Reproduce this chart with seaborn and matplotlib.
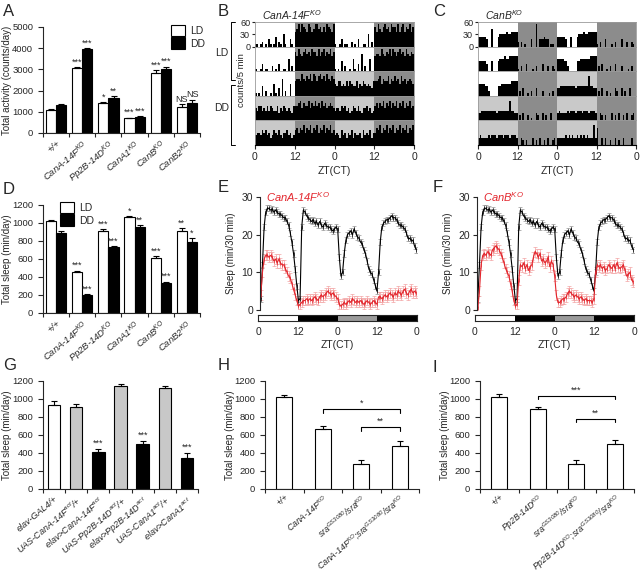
import numpy as np
import pandas as pd
import matplotlib
matplotlib.use("Agg")
import matplotlib.pyplot as plt
import seaborn as sns
from matplotlib.patches import Patch
from matplotlib.lines import Line2D

sns.set_style("ticks")
plt.rcParams["font.family"] = ["Liberation Sans", "DejaVu Sans"]
plt.rcParams["mathtext.default"] = "regular"
plt.rcParams["font.size"] = 6.8
plt.rcParams["axes.linewidth"] = 0.8
plt.rcParams["xtick.major.width"] = 0.8
plt.rcParams["ytick.major.width"] = 0.8
plt.rcParams["xtick.minor.width"] = 0.8
plt.rcParams["xtick.labelsize"] = 6.8
plt.rcParams["ytick.labelsize"] = 6.8

# ---------------- data ----------------
ko_names = ["+/+", "CanA-14F", "Pp2B-14D", "CanA1", "CanB", "CanB2"]
ko_labels = ["+/+", "CanA-14F$^{KO}$", "Pp2B-14D$^{KO}$", "CanA1$^{KO}$",
             "CanB$^{KO}$", "CanB2$^{KO}$"]

activity_ld = [1080, 3080, 1400, 700, 2850, 1230]
activity_ld_err = [40, 20, 60, 30, 120, 130]
activity_dd = [1320, 3970, 1650, 770, 3000, 1420]
activity_dd_err = [40, 30, 80, 30, 130, 150]
activity_sig_ld = ["", "***", "*", "***", "***", "NS"]
activity_sig_dd = ["", "***", "**", "***", "***", "NS"]

sleep_ld = [1020, 455, 915, 1070, 610, 915]
sleep_ld_err = [10, 15, 15, 8, 25, 30]
sleep_dd = [890, 200, 730, 960, 330, 790]
sleep_dd_err = [20, 10, 15, 15, 20, 40]
sleep_sig_ld = ["", "***", "***", "*", "***", "**"]
sleep_sig_dd = ["", "***", "***", "**", "***", "*"]

# actograms: one string per day, 48 half-hour bins, digit = counts / 6
regime = ["LD", "LD", "LD", "DD", "DD", "DD"]
canA14F_days = [
    "110120103101402105100310" + "679698769867997868698769",
    "100130110020103001105020" + "869768978698869689687968",
    "101040200105103070200500" + "677697687969868978697687",
    "546645464654463546545436" + "667857668576867586756765",
    "455465645346546435564534" + "675768576857685768576856",
    "454364535463544536454635" + "576857685768576857685768",
]
canB_days = [
    "444443007000455556556666" + "202010003009033343301100",
    "444443004000455565566666" + "102003000102000300200210",
    "555544200000445555556666" + "020300102003000200010200",
    "334444444443444444484433" + "020300201003200302003000",
    "343333434443444344434443" + "003202000302030020300230",
    "333334343433434343433383" + "700303002003020030000300",
]

# sleep profiles, 30-min bins over 48 h
ctrl_sleep = [3, 12, 22, 26, 27, 27, 26.5, 26.8, 26, 26.5, 26, 25.5,
              25.5, 25, 24.5, 24.5, 23.5, 22.5, 20.5, 18, 15, 11, 6.5, 2.5,
              3, 22, 26.5, 26, 25, 24.5, 24, 23.5, 24, 23, 23.5, 22.5,
              23.5, 22.5, 22, 23, 22.5, 22, 22, 21.5, 21, 21.5, 22, 21.5,
              14, 9, 10, 15, 18.5, 20, 20.5, 21, 20, 21.5, 20.5, 19.5,
              19, 18, 17.5, 16, 15, 13, 11, 10, 9.5, 8, 6.5, 5,
              10, 18, 22, 23, 23.5, 24, 24, 24.5, 25, 24.5, 24.5, 24,
              23, 22.5, 22.5, 22, 21.5, 20.5, 19, 19, 18.5, 18.5, 17, 16]
canA14F_sleep = [4, 10, 13.5, 14.5, 14.5, 14, 14.5, 14, 13, 13.5, 12.5, 13.5,
                 12.5, 12, 12, 11, 10, 9, 8.5, 7, 5.5, 4, 2.5, 1,
                 1.5, 2, 2.5, 2.5, 3, 2.5, 3, 2.5, 3, 3.5, 3, 2.5,
                 3.5, 4, 3.5, 4, 4.5, 5, 4.5, 4, 4.5, 4, 3.5, 3,
                 1.5, 1, 1.5, 2, 1.5, 2, 2.5, 2, 3, 2.5, 2, 2.5,
                 2, 2.5, 2, 1.5, 2, 2.5, 2, 1.5, 2, 2.5, 2, 1.5,
                 3.5, 3.5, 3, 3.5, 4, 3.5, 4, 4.5, 4, 3.5, 4.5, 4,
                 5, 4.5, 4, 5, 5.5, 4.5, 4, 5, 5.5, 4.5, 5, 4.5]
canB_sleep = [0.5, 5, 12, 14.5, 15, 14.5, 15.5, 15, 14.5, 16, 16.5, 17,
              16.5, 16, 15, 14, 12.5, 11, 10, 9, 7, 5, 2.5, 1,
              1.5, 8, 12, 11.5, 12.5, 11, 12, 10.5, 11.5, 12, 14, 15.5,
              15, 14, 15, 13, 13.5, 12.5, 13, 14, 11.5, 13, 12, 9,
              4, 2, 2, 2.5, 3, 3, 3.5, 4.5, 5, 4.5, 4, 3.5,
              4, 3.5, 3, 3.5, 3, 2.5, 3, 2.5, 2.5, 2.5, 2, 3,
              10, 12, 11.5, 12, 11, 11.5, 10.5, 11, 12, 11.5, 11, 12,
              11, 12.5, 11.5, 11, 11.5, 12, 10.5, 9, 9.5, 10, 8, 7.5]
ctrl_sem = 0.8
mutant_sem = 1.3
phase_bar = ["light", "dark", "subjective day", "dark"]

gof_names = ["elav-GAL4/+", "UAS-CanA-14F/+", "elav>CanA-14F",
             "UAS-Pp2B-14D/+", "elav>Pp2B-14D", "UAS-CanA1/+", "elav>CanA1"]
gof_labels = ["elav-GAL4/+", "UAS-CanA-14F$^{act}$/+", "elav>CanA-14F$^{act}$",
              "UAS-Pp2B-14D$^{act}$/+", "elav>Pp2B-14D$^{act}$",
              "UAS-CanA1$^{act}$/+", "elav>CanA1$^{act}$"]
gof_sleep = [930, 910, 415, 1140, 495, 1120, 350]
gof_err = [50, 40, 35, 25, 40, 20, 55]
gof_kind = ["driver", "uas", "over", "uas", "over", "uas", "over"]
gof_sig = ["", "", "***", "", "***", "", "***"]

h_names = ["+/+", "CanA-14F", "sra", "CanA-14F;sra"]
h_labels = ["+/+", "CanA-14F$^{KO}$", "sra$^{GS3080}$/sra$^{KO}$",
            "CanA-14F$^{KO}$;sra$^{GS3080}$/sra$^{KO}$"]
h_sleep = [1020, 665, 280, 480]
h_err = [30, 35, 45, 50]
h_brackets = [(1, 3, 890, "*"), (2, 3, 690, "**")]

i_names = ["+/+", "Pp2B-14D", "sra", "Pp2B-14D;sra"]
i_labels = ["+/+", "Pp2B-14D$^{KO}$", "sra$^{GS3080}$/sra$^{KO}$",
            "Pp2B-14D$^{KO}$;sra$^{GS3080}$/sra$^{KO}$"]
i_sleep = [1020, 885, 280, 495]
i_err = [35, 30, 45, 50]
i_brackets = [(1, 3, 1035, "***"), (2, 3, 780, "**")]

# ---------------- figure ----------------
W, H = 640, 576
fig = plt.figure(figsize=(W / 100, H / 100), dpi=100)


def box(l, t, r, b):
    return [l / W, 1 - b / H, (r - l) / W, (b - t) / H]


def ftext(x, y, s, **kw):
    fig.text(x / W, 1 - y / H, s, **kw)


def fline(xs, ys, **kw):
    fig.add_artist(Line2D([x / W for x in xs], [1 - y / H for y in ys],
                          transform=fig.transFigure, **kw))


def set_ylabel_px(ax, rect, text, x_px):
    l, t, r, b = rect
    ax.set_ylabel(text, fontsize=7)
    ax.yaxis.set_label_coords((x_px - l) / (r - l), 0.5)


def rot_labels(ax, labels, size=6.8, pad=4):
    ax.set_xticks(range(len(labels)))
    ax.set_xticklabels(labels, rotation=40, ha="right", rotation_mode="anchor",
                       fontstyle="italic", fontsize=size)
    ax.tick_params(axis="x", which="major", length=0, pad=pad)
    ax.set_xticks(np.arange(-0.5, len(labels)), minor=True)
    ax.tick_params(axis="x", which="minor", length=3, direction="out")


def grouped(rect, ld, ld_err, dd, dd_err, sig_ld, sig_dd, ymax, step, ylabel):
    ax = fig.add_axes(box(*rect))
    n = len(ko_names)
    df = pd.DataFrame({"genotype": ko_names * 2,
                       "cond": ["LD"] * n + ["DD"] * n,
                       "value": ld + dd})
    sns.barplot(data=df, x="genotype", y="value", hue="cond",
                hue_order=["LD", "DD"], palette={"LD": "white", "DD": "black"},
                edgecolor="black", linewidth=0.8, width=0.78, saturation=1,
                errorbar=None, legend=False, ax=ax)
    for cont, err, sig in zip(ax.containers, [ld_err, dd_err], [sig_ld, sig_dd]):
        for bar, e, s in zip(cont, err, sig):
            x = bar.get_x() + bar.get_width() / 2
            h = bar.get_height()
            ax.errorbar(x, h, yerr=[[0], [e]], ecolor="black", elinewidth=0.8,
                        capsize=2, capthick=0.8)
            if s:
                ax.text(x, h + e + ymax * 0.005, s, ha="center", va="bottom",
                        fontsize=6.5)
    ax.set_ylim(0, ymax)
    ax.set_xlim(-0.5, n - 0.5)
    ax.set_yticks(np.arange(0, ymax + 1, step))
    ax.set_xlabel("")
    rot_labels(ax, ko_labels)
    sns.despine(ax=ax)
    set_ylabel_px(ax, rect, ylabel, 12)
    return ax


def ld_dd_legend(ax, x_px, y_px):
    ax.legend(handles=[Patch(facecolor="white", edgecolor="black", lw=0.8),
                       Patch(facecolor="black", edgecolor="black", lw=0.8)],
              labels=["LD", "DD"], loc="upper left",
              bbox_to_anchor=(x_px / W, 1 - y_px / H),
              bbox_transform=fig.transFigure, frameon=False, handlelength=1.3,
              handleheight=1.3, handletextpad=0.5, labelspacing=0.1,
              fontsize=7.5, borderaxespad=0, borderpad=0)


# ----- A -----
ax_a = grouped((43, 27, 200, 133), activity_ld, activity_ld_err, activity_dd,
               activity_dd_err, activity_sig_ld, activity_sig_dd, 5000, 1000,
               "Total activity (counts/day)")
ld_dd_legend(ax_a, 171, 25)

# ----- D -----
ax_d = grouped((43, 205, 200, 313), sleep_ld, sleep_ld_err, sleep_dd,
               sleep_dd_err, sleep_sig_ld, sleep_sig_dd, 1200, 200,
               "Total sleep (min/day)")
ld_dd_legend(ax_d, 60, 202)


# ----- B, C actograms -----
def actogram(left, right, top, bottom, days, title):
    nrows = len(days) - 1
    rh = (bottom - top) / nrows
    for r in range(nrows):
        ax = fig.add_axes(box(left, top + r * rh, right, top + (r + 1) * rh))
        counts = np.array([int(c) * 6 for c in days[r] + days[r + 1]])
        hours = np.arange(len(counts)) * 0.5
        for k, reg in enumerate([regime[r], regime[r + 1]]):
            day_col = "white" if reg == "LD" else "#c9c9c9"
            ax.axvspan(24 * k, 24 * k + 12, color=day_col, lw=0, zorder=0)
            ax.axvspan(24 * k + 12, 24 * k + 24, color="#8c8c8c", lw=0, zorder=0)
        ax.bar(hours, counts, width=0.5, align="edge", color="black", lw=0,
               zorder=2)
        ax.set_xlim(0, 48)
        ax.set_ylim(0, 60)
        for s in ax.spines.values():
            s.set_color("#9a9a9a")
            s.set_linewidth(0.6)
        if r == 0:
            ax.set_yticks([0, 30, 60])
            ax.tick_params(axis="y", length=2.5, pad=1, labelsize=6.5)
        else:
            ax.set_yticks([])
        if r == nrows - 1:
            ax.set_xticks([0, 12, 24, 36, 48])
            ax.set_xticklabels(["0", "12", "0", "12", "0"], fontsize=7.5)
            ax.tick_params(axis="x", length=3, pad=2)
            ax.spines["bottom"].set_color("black")
            ax.spines["bottom"].set_linewidth(0.8)
        else:
            ax.set_xticks([])
    ftext((left + right) / 2, bottom + 26, "ZT(CT)", ha="center", va="center",
          fontsize=7.5)
    ftext(left + 7, top - 7, title, ha="left", va="center", fontsize=7.5,
          fontstyle="italic")


actogram(255, 414, 22, 145, canA14F_days, "CanA-14F$^{KO}$")
actogram(478, 636, 22, 145, canB_days, "CanB$^{KO}$")

# LD / DD brackets and y label of B
fline([235, 231, 231, 235], [22, 22, 80, 80], color="black", lw=0.7)
fline([235, 231, 231, 235], [85, 85, 145, 145], color="black", lw=0.7)
ftext(222, 53, "LD", ha="center", va="center", fontsize=7.5)
ftext(222, 108, "DD", ha="center", va="center", fontsize=7.5)
ftext(242, 80, "counts/5 min", ha="center", va="center", rotation=90,
      fontsize=6.8)


# ----- E, F sleep profiles -----
def profile(rect, strip_rect, mutant, title):
    ax = fig.add_axes(box(*rect))
    hours = (np.arange(len(ctrl_sleep)) + 0.5) * 0.5
    for vals, sem, col, ecol in [(ctrl_sleep, ctrl_sem, "black", "#8a8a8a"),
                                 (mutant, mutant_sem, "#e3262d", "#f19a9a")]:
        ax.errorbar(hours, vals, yerr=sem, fmt="none", ecolor=ecol,
                    elinewidth=0.45, capsize=1.2, capthick=0.45, zorder=1)
        sns.lineplot(x=hours, y=vals, color=col, lw=0.8, marker="|",
                     markersize=2.5, markeredgewidth=0.5, markeredgecolor=col,
                     ax=ax, zorder=2)
    ax.set_xlim(0, 48)
    ax.set_ylim(0, 30)
    ax.set_yticks([0, 10, 20, 30])
    ax.set_xticks([])
    ax.tick_params(axis="y", length=3, pad=2, labelsize=7.5)
    sns.despine(ax=ax, bottom=True)
    set_ylabel_px(ax, rect, "Sleep (min/30 min)", rect[0] - 24)
    ax.text(0.04, 1.0, title, transform=ax.transAxes, color="#e3262d",
            fontstyle="italic", fontsize=8, ha="left", va="center")

    sx = fig.add_axes(box(*strip_rect))
    cols = {"light": "white", "dark": "black", "subjective day": "#9a9a9a"}
    for k, ph in enumerate(phase_bar):
        sx.axvspan(12 * k, 12 * k + 12, color=cols[ph], lw=0)
    sx.set_xlim(0, 48)
    sx.set_yticks([])
    sx.set_xticks([0, 12, 24, 36, 48])
    sx.set_xticklabels(["0", "12", "0", "12", "0"], fontsize=7.5)
    sx.tick_params(axis="x", length=0, pad=4)
    for s in sx.spines.values():
        s.set_linewidth(0.8)
    ftext((strip_rect[0] + strip_rect[2]) / 2, strip_rect[3] + 24, "ZT(CT)",
          ha="center", va="center", fontsize=7.5)


profile((260, 197, 417, 310), (258, 315, 417, 321), canA14F_sleep,
        "CanA-14F$^{KO}$")
profile((477, 197, 634, 310), (475, 315, 634, 321), canB_sleep, "CanB$^{KO}$")


# ----- G, H, I -----
def single_bars(rect, names, labels, vals, errs, colors, width, sig=None,
                brackets=None, ylab_x=12, label_size=6.8, pad=4):
    ax = fig.add_axes(box(*rect))
    sns.barplot(x=names, y=vals, hue=names, palette=dict(zip(names, colors)),
                edgecolor="black", linewidth=0.8, width=width, saturation=1,
                errorbar=None, legend=False, ax=ax)
    for k, (v, e) in enumerate(zip(vals, errs)):
        ax.errorbar(k, v, yerr=[[0], [e]], ecolor="black", elinewidth=0.8,
                    capsize=2, capthick=0.8)
        if sig and sig[k]:
            ax.text(k, v + e + 8, sig[k], ha="center", va="bottom", fontsize=6.5)
    if brackets:
        for a, b, y, s in brackets:
            ax.plot([a, a, b, b], [y - 40, y, y, y - 40], color="black", lw=0.8)
            ax.text((a + b) / 2, y + 15, s, ha="center", va="bottom",
                    fontsize=6.5)
    ax.set_ylim(0, 1200)
    ax.set_xlim(-0.5, len(names) - 0.5)
    ax.set_yticks(np.arange(0, 1201, 200))
    rot_labels(ax, labels, label_size, pad)
    sns.despine(ax=ax)
    set_ylabel_px(ax, rect, "Total sleep (min/day)", ylab_x)
    return ax


kind_colors = {"driver": "white", "uas": "#c8c8c8", "over": "black"}
single_bars((43, 381, 198, 489), gof_names, gof_labels, gof_sleep, gof_err,
            [kind_colors[k] for k in gof_kind], 0.56, sig=gof_sig, ylab_x=12,
            label_size=6.5)
single_bars((265, 381, 419, 489), h_names, h_labels, h_sleep, h_err,
            ["white"] * 4, 0.42, brackets=h_brackets, ylab_x=235,
            label_size=6.2, pad=2.5)
single_bars((480, 381, 634, 489), i_names, i_labels, i_sleep, i_err,
            ["white"] * 4, 0.42, brackets=i_brackets, ylab_x=450,
            label_size=6.2, pad=2.5)

# panel letters
for letter, x, y in [("A", 3, 11), ("B", 218, 11), ("C", 433, 11),
                     ("D", 3, 190), ("E", 218, 187), ("F", 433, 187),
                     ("G", 3, 366), ("H", 218, 366), ("I", 433, 368)]:
    ftext(x, y, letter, ha="left", va="center", fontsize=12)

fig.savefig("out.png", dpi=100)
